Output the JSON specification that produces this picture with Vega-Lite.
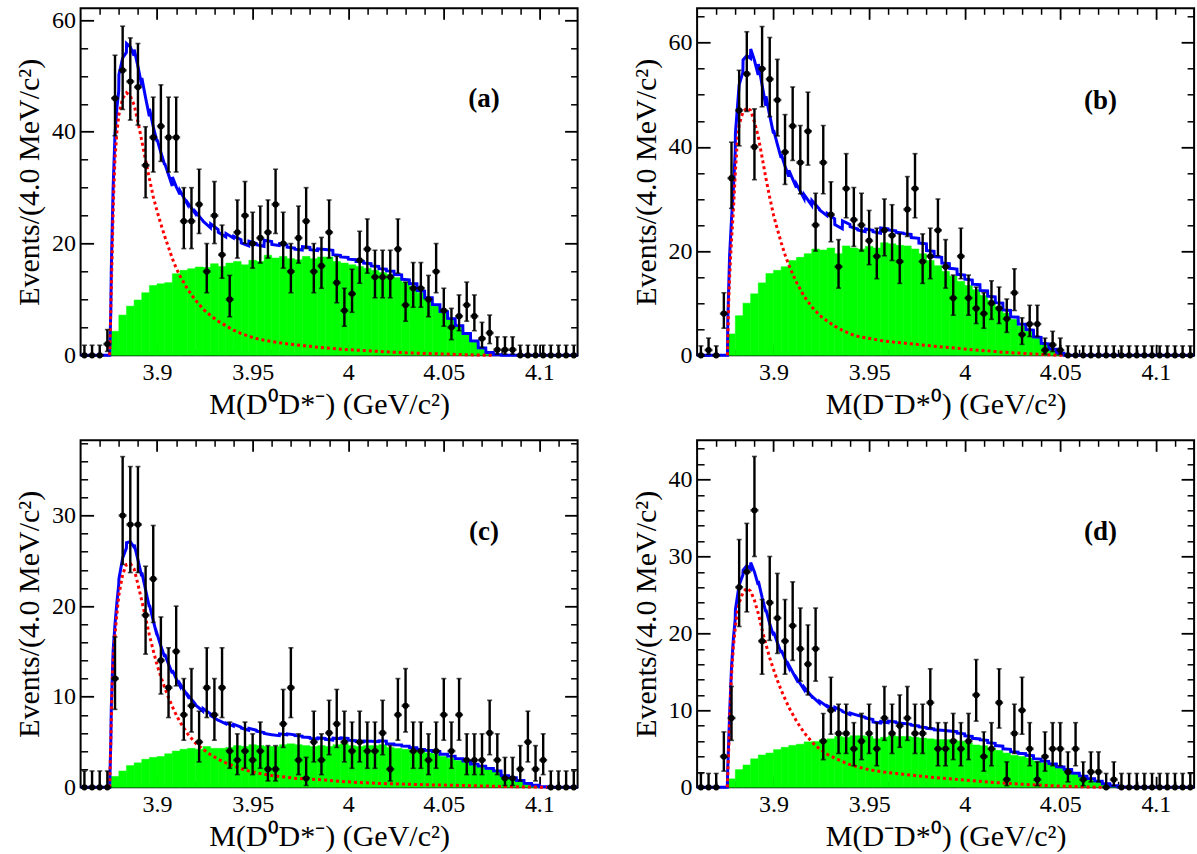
{
"$schema":"https://vega.github.io/schema/vega-lite/v6.json",
"background":"white",
"padding":{"left":13.6,"top":6.3,"right":0,"bottom":0},
"bounds":"flush",
"columns":2,
"spacing":{"row":85,"column":119.5},
"config":{"view":{"stroke":"black","strokeWidth":2},"font":"Liberation Serif","axis":{"labelFont":"Liberation Serif","titleFont":"Liberation Serif","labelColor":"#000","titleColor":"#000","titleFontWeight":"normal","tickColor":"#000","labelFlush":false,"labelOverlap":false,"grid":false,"domain":false},"text":{"font":"Liberation Serif"}},
"datasets":{
"lab":[{"p":"a","t":"(a)"},{"p":"b","t":"(b)"},{"p":"c","t":"(c)"},{"p":"d","t":"(d)"}],
"pts":[
{"p":"a","x":3.862,"n":0,"lo":0,"hi":1.8},{"p":"a","x":3.866,"n":0,"lo":0,"hi":1.8},{"p":"a","x":3.870,"n":0,"lo":0,"hi":1.8},{"p":"a","x":3.874,"n":2,"lo":0.7,"hi":4.6},{"p":"a","x":3.878,"n":46,"lo":39.3,"hi":53.7},{"p":"a","x":3.882,"n":51,"lo":44.0,"hi":58.9},{"p":"a","x":3.886,"n":49,"lo":42.1,"hi":56.8},{"p":"a","x":3.890,"n":48,"lo":41.2,"hi":55.8},{"p":"a","x":3.894,"n":34,"lo":28.2,"hi":40.9},{"p":"a","x":3.898,"n":39,"lo":32.8,"hi":46.2},{"p":"a","x":3.902,"n":41,"lo":34.7,"hi":48.4},{"p":"a","x":3.906,"n":39,"lo":32.8,"hi":46.2},{"p":"a","x":3.910,"n":39,"lo":32.8,"hi":46.2},{"p":"a","x":3.914,"n":24,"lo":19.1,"hi":30.0},{"p":"a","x":3.918,"n":24,"lo":19.1,"hi":30.0},{"p":"a","x":3.922,"n":27,"lo":21.8,"hi":33.3},{"p":"a","x":3.926,"n":15,"lo":11.2,"hi":20.0},{"p":"a","x":3.930,"n":25,"lo":20.0,"hi":31.1},{"p":"a","x":3.934,"n":18,"lo":13.8,"hi":23.3},{"p":"a","x":3.938,"n":10,"lo":6.9,"hi":14.3},{"p":"a","x":3.942,"n":22,"lo":17.4,"hi":27.8},{"p":"a","x":3.946,"n":25,"lo":20.0,"hi":31.1},{"p":"a","x":3.950,"n":20,"lo":15.6,"hi":25.6},{"p":"a","x":3.954,"n":21,"lo":16.5,"hi":26.7},{"p":"a","x":3.958,"n":22,"lo":17.4,"hi":27.8},{"p":"a","x":3.962,"n":27,"lo":21.8,"hi":33.3},{"p":"a","x":3.966,"n":20,"lo":15.6,"hi":25.6},{"p":"a","x":3.970,"n":15,"lo":11.2,"hi":20.0},{"p":"a","x":3.974,"n":21,"lo":16.5,"hi":26.7},{"p":"a","x":3.978,"n":24,"lo":19.1,"hi":30.0},{"p":"a","x":3.982,"n":15,"lo":11.2,"hi":20.0},{"p":"a","x":3.986,"n":16,"lo":12.0,"hi":21.1},{"p":"a","x":3.990,"n":22,"lo":17.4,"hi":27.8},{"p":"a","x":3.994,"n":13,"lo":9.4,"hi":17.7},{"p":"a","x":3.998,"n":8,"lo":5.2,"hi":12.0},{"p":"a","x":4.002,"n":11,"lo":7.7,"hi":15.4},{"p":"a","x":4.006,"n":17,"lo":12.9,"hi":22.2},{"p":"a","x":4.010,"n":19,"lo":14.7,"hi":24.4},{"p":"a","x":4.014,"n":14,"lo":10.3,"hi":18.8},{"p":"a","x":4.018,"n":14,"lo":10.3,"hi":18.8},{"p":"a","x":4.022,"n":14,"lo":10.3,"hi":18.8},{"p":"a","x":4.026,"n":19,"lo":14.7,"hi":24.4},{"p":"a","x":4.030,"n":9,"lo":6.1,"hi":13.1},{"p":"a","x":4.034,"n":12,"lo":8.6,"hi":16.6},{"p":"a","x":4.038,"n":12,"lo":8.6,"hi":16.6},{"p":"a","x":4.042,"n":10,"lo":6.9,"hi":14.3},{"p":"a","x":4.046,"n":15,"lo":11.2,"hi":20.0},{"p":"a","x":4.050,"n":8,"lo":5.2,"hi":12.0},{"p":"a","x":4.054,"n":5,"lo":2.8,"hi":8.4},{"p":"a","x":4.058,"n":7,"lo":4.4,"hi":10.8},{"p":"a","x":4.062,"n":9,"lo":6.1,"hi":13.1},{"p":"a","x":4.066,"n":7,"lo":4.4,"hi":10.8},{"p":"a","x":4.070,"n":3,"lo":1.4,"hi":5.9},{"p":"a","x":4.074,"n":4,"lo":2.1,"hi":7.2},{"p":"a","x":4.078,"n":1,"lo":0.2,"hi":3.3},{"p":"a","x":4.082,"n":1,"lo":0.2,"hi":3.3},{"p":"a","x":4.086,"n":1,"lo":0.2,"hi":3.3},{"p":"a","x":4.090,"n":0,"lo":0,"hi":1.8},{"p":"a","x":4.094,"n":0,"lo":0,"hi":1.8},{"p":"a","x":4.098,"n":0,"lo":0,"hi":1.8},{"p":"a","x":4.102,"n":0,"lo":0,"hi":1.8},{"p":"a","x":4.106,"n":0,"lo":0,"hi":1.8},{"p":"a","x":4.110,"n":0,"lo":0,"hi":1.8},{"p":"a","x":4.114,"n":0,"lo":0,"hi":1.8},{"p":"a","x":4.118,"n":0,"lo":0,"hi":1.8},
{"p":"b","x":3.862,"n":0,"lo":0,"hi":1.8},{"p":"b","x":3.866,"n":1,"lo":0.2,"hi":3.3},{"p":"b","x":3.870,"n":0,"lo":0,"hi":1.8},{"p":"b","x":3.874,"n":8,"lo":5.2,"hi":12.0},{"p":"b","x":3.878,"n":34,"lo":28.2,"hi":40.9},{"p":"b","x":3.882,"n":47,"lo":40.2,"hi":54.7},{"p":"b","x":3.886,"n":54,"lo":46.8,"hi":62.1},{"p":"b","x":3.890,"n":40,"lo":33.7,"hi":47.3},{"p":"b","x":3.894,"n":55,"lo":47.7,"hi":63.1},{"p":"b","x":3.898,"n":53,"lo":45.8,"hi":61.0},{"p":"b","x":3.902,"n":49,"lo":42.1,"hi":56.8},{"p":"b","x":3.906,"n":39,"lo":32.8,"hi":46.2},{"p":"b","x":3.910,"n":44,"lo":37.4,"hi":51.5},{"p":"b","x":3.914,"n":37,"lo":31.0,"hi":44.1},{"p":"b","x":3.918,"n":43,"lo":36.5,"hi":50.5},{"p":"b","x":3.922,"n":25,"lo":20.0,"hi":31.1},{"p":"b","x":3.926,"n":37,"lo":31.0,"hi":44.1},{"p":"b","x":3.930,"n":27,"lo":21.8,"hi":33.3},{"p":"b","x":3.934,"n":17,"lo":12.9,"hi":22.2},{"p":"b","x":3.938,"n":32,"lo":26.4,"hi":38.7},{"p":"b","x":3.942,"n":26,"lo":20.9,"hi":32.2},{"p":"b","x":3.946,"n":25,"lo":20.0,"hi":31.1},{"p":"b","x":3.950,"n":22,"lo":17.4,"hi":27.8},{"p":"b","x":3.954,"n":19,"lo":14.7,"hi":24.4},{"p":"b","x":3.958,"n":24,"lo":19.1,"hi":30.0},{"p":"b","x":3.962,"n":23,"lo":18.2,"hi":28.9},{"p":"b","x":3.966,"n":18,"lo":13.8,"hi":23.3},{"p":"b","x":3.970,"n":28,"lo":22.8,"hi":34.3},{"p":"b","x":3.974,"n":32,"lo":26.4,"hi":38.7},{"p":"b","x":3.978,"n":18,"lo":13.8,"hi":23.3},{"p":"b","x":3.982,"n":19,"lo":14.7,"hi":24.4},{"p":"b","x":3.986,"n":24,"lo":19.1,"hi":30.0},{"p":"b","x":3.990,"n":17,"lo":12.9,"hi":22.2},{"p":"b","x":3.994,"n":11,"lo":7.7,"hi":15.4},{"p":"b","x":3.998,"n":19,"lo":14.7,"hi":24.4},{"p":"b","x":4.002,"n":11,"lo":7.7,"hi":15.4},{"p":"b","x":4.006,"n":9,"lo":6.1,"hi":13.1},{"p":"b","x":4.010,"n":8,"lo":5.2,"hi":12.0},{"p":"b","x":4.014,"n":10,"lo":6.9,"hi":14.3},{"p":"b","x":4.018,"n":9,"lo":6.1,"hi":13.1},{"p":"b","x":4.022,"n":7,"lo":4.4,"hi":10.8},{"p":"b","x":4.026,"n":12,"lo":8.6,"hi":16.6},{"p":"b","x":4.030,"n":4,"lo":2.1,"hi":7.2},{"p":"b","x":4.034,"n":6,"lo":3.6,"hi":9.6},{"p":"b","x":4.038,"n":6,"lo":3.6,"hi":9.6},{"p":"b","x":4.042,"n":1,"lo":0.2,"hi":3.3},{"p":"b","x":4.046,"n":2,"lo":0.7,"hi":4.6},{"p":"b","x":4.050,"n":1,"lo":0.2,"hi":3.3},{"p":"b","x":4.054,"n":0,"lo":0,"hi":1.8},{"p":"b","x":4.058,"n":0,"lo":0,"hi":1.8},{"p":"b","x":4.062,"n":0,"lo":0,"hi":1.8},{"p":"b","x":4.066,"n":0,"lo":0,"hi":1.8},{"p":"b","x":4.070,"n":0,"lo":0,"hi":1.8},{"p":"b","x":4.074,"n":0,"lo":0,"hi":1.8},{"p":"b","x":4.078,"n":0,"lo":0,"hi":1.8},{"p":"b","x":4.082,"n":0,"lo":0,"hi":1.8},{"p":"b","x":4.086,"n":0,"lo":0,"hi":1.8},{"p":"b","x":4.090,"n":0,"lo":0,"hi":1.8},{"p":"b","x":4.094,"n":0,"lo":0,"hi":1.8},{"p":"b","x":4.098,"n":0,"lo":0,"hi":1.8},{"p":"b","x":4.102,"n":0,"lo":0,"hi":1.8},{"p":"b","x":4.106,"n":0,"lo":0,"hi":1.8},{"p":"b","x":4.110,"n":0,"lo":0,"hi":1.8},{"p":"b","x":4.114,"n":0,"lo":0,"hi":1.8},{"p":"b","x":4.118,"n":0,"lo":0,"hi":1.8},
{"p":"c","x":3.862,"n":0,"lo":0,"hi":1.8},{"p":"c","x":3.866,"n":0,"lo":0,"hi":1.8},{"p":"c","x":3.870,"n":0,"lo":0,"hi":1.8},{"p":"c","x":3.874,"n":0,"lo":0,"hi":1.8},{"p":"c","x":3.878,"n":12,"lo":8.6,"hi":16.6},{"p":"c","x":3.882,"n":30,"lo":24.6,"hi":36.5},{"p":"c","x":3.886,"n":29,"lo":23.7,"hi":35.4},{"p":"c","x":3.890,"n":29,"lo":23.7,"hi":35.4},{"p":"c","x":3.894,"n":19,"lo":14.7,"hi":24.4},{"p":"c","x":3.898,"n":23,"lo":18.2,"hi":28.9},{"p":"c","x":3.902,"n":14,"lo":10.3,"hi":18.8},{"p":"c","x":3.906,"n":11,"lo":7.7,"hi":15.4},{"p":"c","x":3.910,"n":15,"lo":11.2,"hi":20.0},{"p":"c","x":3.914,"n":8,"lo":5.2,"hi":12.0},{"p":"c","x":3.918,"n":9,"lo":6.1,"hi":13.1},{"p":"c","x":3.922,"n":5,"lo":2.8,"hi":8.4},{"p":"c","x":3.926,"n":11,"lo":7.7,"hi":15.4},{"p":"c","x":3.930,"n":8,"lo":5.2,"hi":12.0},{"p":"c","x":3.934,"n":11,"lo":7.7,"hi":15.4},{"p":"c","x":3.938,"n":4,"lo":2.1,"hi":7.2},{"p":"c","x":3.942,"n":3,"lo":1.4,"hi":5.9},{"p":"c","x":3.946,"n":4,"lo":2.1,"hi":7.2},{"p":"c","x":3.950,"n":3,"lo":1.4,"hi":5.9},{"p":"c","x":3.954,"n":4,"lo":2.1,"hi":7.2},{"p":"c","x":3.958,"n":2,"lo":0.7,"hi":4.6},{"p":"c","x":3.962,"n":2,"lo":0.7,"hi":4.6},{"p":"c","x":3.966,"n":7,"lo":4.4,"hi":10.8},{"p":"c","x":3.970,"n":11,"lo":7.7,"hi":15.4},{"p":"c","x":3.974,"n":3,"lo":1.4,"hi":5.9},{"p":"c","x":3.978,"n":1,"lo":0.2,"hi":3.3},{"p":"c","x":3.982,"n":5,"lo":2.8,"hi":8.4},{"p":"c","x":3.986,"n":3,"lo":1.4,"hi":5.9},{"p":"c","x":3.990,"n":6,"lo":3.6,"hi":9.6},{"p":"c","x":3.994,"n":7,"lo":4.4,"hi":10.8},{"p":"c","x":3.998,"n":5,"lo":2.8,"hi":8.4},{"p":"c","x":4.002,"n":4,"lo":2.1,"hi":7.2},{"p":"c","x":4.006,"n":5,"lo":2.8,"hi":8.4},{"p":"c","x":4.010,"n":4,"lo":2.1,"hi":7.2},{"p":"c","x":4.014,"n":4,"lo":2.1,"hi":7.2},{"p":"c","x":4.018,"n":6,"lo":3.6,"hi":9.6},{"p":"c","x":4.022,"n":2,"lo":0.7,"hi":4.6},{"p":"c","x":4.026,"n":8,"lo":5.2,"hi":12.0},{"p":"c","x":4.030,"n":9,"lo":6.1,"hi":13.1},{"p":"c","x":4.034,"n":4,"lo":2.1,"hi":7.2},{"p":"c","x":4.038,"n":4,"lo":2.1,"hi":7.2},{"p":"c","x":4.042,"n":3,"lo":1.4,"hi":5.9},{"p":"c","x":4.046,"n":4,"lo":2.1,"hi":7.2},{"p":"c","x":4.050,"n":8,"lo":5.2,"hi":12.0},{"p":"c","x":4.054,"n":4,"lo":2.1,"hi":7.2},{"p":"c","x":4.058,"n":8,"lo":5.2,"hi":12.0},{"p":"c","x":4.062,"n":3,"lo":1.4,"hi":5.9},{"p":"c","x":4.066,"n":3,"lo":1.4,"hi":5.9},{"p":"c","x":4.070,"n":3,"lo":1.4,"hi":5.9},{"p":"c","x":4.074,"n":6,"lo":3.6,"hi":9.6},{"p":"c","x":4.078,"n":3,"lo":1.4,"hi":5.9},{"p":"c","x":4.082,"n":1,"lo":0.2,"hi":3.3},{"p":"c","x":4.086,"n":1,"lo":0.2,"hi":3.3},{"p":"c","x":4.090,"n":2,"lo":0.7,"hi":4.6},{"p":"c","x":4.094,"n":5,"lo":2.8,"hi":8.4},{"p":"c","x":4.098,"n":2,"lo":0.7,"hi":4.6},{"p":"c","x":4.102,"n":3,"lo":1.4,"hi":5.9},{"p":"c","x":4.106,"n":0,"lo":0,"hi":1.8},{"p":"c","x":4.110,"n":0,"lo":0,"hi":1.8},{"p":"c","x":4.114,"n":0,"lo":0,"hi":1.8},{"p":"c","x":4.118,"n":0,"lo":0,"hi":1.8},
{"p":"d","x":3.862,"n":0,"lo":0,"hi":1.8},{"p":"d","x":3.866,"n":0,"lo":0,"hi":1.8},{"p":"d","x":3.870,"n":0,"lo":0,"hi":1.8},{"p":"d","x":3.874,"n":4,"lo":2.1,"hi":7.2},{"p":"d","x":3.878,"n":9,"lo":6.1,"hi":13.1},{"p":"d","x":3.882,"n":26,"lo":20.9,"hi":32.2},{"p":"d","x":3.886,"n":28,"lo":22.8,"hi":34.3},{"p":"d","x":3.890,"n":36,"lo":30.0,"hi":43.0},{"p":"d","x":3.894,"n":19,"lo":14.7,"hi":24.4},{"p":"d","x":3.898,"n":24,"lo":19.1,"hi":30.0},{"p":"d","x":3.902,"n":22,"lo":17.4,"hi":27.8},{"p":"d","x":3.906,"n":19,"lo":14.7,"hi":24.4},{"p":"d","x":3.910,"n":21,"lo":16.5,"hi":26.7},{"p":"d","x":3.914,"n":18,"lo":13.8,"hi":23.3},{"p":"d","x":3.918,"n":16,"lo":12.0,"hi":21.1},{"p":"d","x":3.922,"n":18,"lo":13.8,"hi":23.3},{"p":"d","x":3.926,"n":6,"lo":3.6,"hi":9.6},{"p":"d","x":3.930,"n":10,"lo":6.9,"hi":14.3},{"p":"d","x":3.934,"n":7,"lo":4.4,"hi":10.8},{"p":"d","x":3.938,"n":7,"lo":4.4,"hi":10.8},{"p":"d","x":3.942,"n":5,"lo":2.8,"hi":8.4},{"p":"d","x":3.946,"n":6,"lo":3.6,"hi":9.6},{"p":"d","x":3.950,"n":7,"lo":4.4,"hi":10.8},{"p":"d","x":3.954,"n":5,"lo":2.8,"hi":8.4},{"p":"d","x":3.958,"n":9,"lo":6.1,"hi":13.1},{"p":"d","x":3.962,"n":7,"lo":4.4,"hi":10.8},{"p":"d","x":3.966,"n":8,"lo":5.2,"hi":12.0},{"p":"d","x":3.970,"n":9,"lo":6.1,"hi":13.1},{"p":"d","x":3.974,"n":7,"lo":4.4,"hi":10.8},{"p":"d","x":3.978,"n":7,"lo":4.4,"hi":10.8},{"p":"d","x":3.982,"n":11,"lo":7.7,"hi":15.4},{"p":"d","x":3.986,"n":5,"lo":2.8,"hi":8.4},{"p":"d","x":3.990,"n":5,"lo":2.8,"hi":8.4},{"p":"d","x":3.994,"n":6,"lo":3.6,"hi":9.6},{"p":"d","x":3.998,"n":5,"lo":2.8,"hi":8.4},{"p":"d","x":4.002,"n":6,"lo":3.6,"hi":9.6},{"p":"d","x":4.006,"n":12,"lo":8.6,"hi":16.6},{"p":"d","x":4.010,"n":4,"lo":2.1,"hi":7.2},{"p":"d","x":4.014,"n":5,"lo":2.8,"hi":8.4},{"p":"d","x":4.018,"n":11,"lo":7.7,"hi":15.4},{"p":"d","x":4.022,"n":1,"lo":0.2,"hi":3.3},{"p":"d","x":4.026,"n":7,"lo":4.4,"hi":10.8},{"p":"d","x":4.030,"n":10,"lo":6.9,"hi":14.3},{"p":"d","x":4.034,"n":5,"lo":2.8,"hi":8.4},{"p":"d","x":4.038,"n":1,"lo":0.2,"hi":3.3},{"p":"d","x":4.042,"n":4,"lo":2.1,"hi":7.2},{"p":"d","x":4.046,"n":5,"lo":2.8,"hi":8.4},{"p":"d","x":4.050,"n":5,"lo":2.8,"hi":8.4},{"p":"d","x":4.054,"n":2,"lo":0.7,"hi":4.6},{"p":"d","x":4.058,"n":5,"lo":2.8,"hi":8.4},{"p":"d","x":4.062,"n":1,"lo":0.2,"hi":3.3},{"p":"d","x":4.066,"n":2,"lo":0.7,"hi":4.6},{"p":"d","x":4.070,"n":2,"lo":0.7,"hi":4.6},{"p":"d","x":4.074,"n":0,"lo":0,"hi":1.8},{"p":"d","x":4.078,"n":1,"lo":0.2,"hi":3.3},{"p":"d","x":4.082,"n":0,"lo":0,"hi":1.8},{"p":"d","x":4.086,"n":0,"lo":0,"hi":1.8},{"p":"d","x":4.090,"n":0,"lo":0,"hi":1.8},{"p":"d","x":4.094,"n":0,"lo":0,"hi":1.8},{"p":"d","x":4.098,"n":0,"lo":0,"hi":1.8},{"p":"d","x":4.102,"n":0,"lo":0,"hi":1.8},{"p":"d","x":4.106,"n":0,"lo":0,"hi":1.8},{"p":"d","x":4.110,"n":0,"lo":0,"hi":1.8},{"p":"d","x":4.114,"n":0,"lo":0,"hi":1.8},{"p":"d","x":4.118,"n":0,"lo":0,"hi":1.8}
],
"grn":[
{"p":"a","x0":3.876,"x1":3.880,"g":4.3},{"p":"a","x0":3.880,"x1":3.884,"g":7.2},{"p":"a","x0":3.884,"x1":3.888,"g":8.8},{"p":"a","x0":3.888,"x1":3.892,"g":9.9},{"p":"a","x0":3.892,"x1":3.896,"g":11.2},{"p":"a","x0":3.896,"x1":3.900,"g":12.5},{"p":"a","x0":3.900,"x1":3.904,"g":12.8},{"p":"a","x0":3.904,"x1":3.908,"g":13.0},{"p":"a","x0":3.908,"x1":3.912,"g":14.6},{"p":"a","x0":3.912,"x1":3.916,"g":15.2},{"p":"a","x0":3.916,"x1":3.920,"g":15.5},{"p":"a","x0":3.920,"x1":3.924,"g":15.8},{"p":"a","x0":3.924,"x1":3.928,"g":15.7},{"p":"a","x0":3.928,"x1":3.932,"g":16.4},{"p":"a","x0":3.932,"x1":3.936,"g":15.9},{"p":"a","x0":3.936,"x1":3.940,"g":16.5},{"p":"a","x0":3.940,"x1":3.944,"g":16.8},{"p":"a","x0":3.944,"x1":3.948,"g":16.2},{"p":"a","x0":3.948,"x1":3.952,"g":17.0},{"p":"a","x0":3.952,"x1":3.956,"g":16.8},{"p":"a","x0":3.956,"x1":3.960,"g":17.9},{"p":"a","x0":3.960,"x1":3.964,"g":17.4},{"p":"a","x0":3.964,"x1":3.968,"g":17.7},{"p":"a","x0":3.968,"x1":3.972,"g":17.3},{"p":"a","x0":3.972,"x1":3.976,"g":17.1},{"p":"a","x0":3.976,"x1":3.980,"g":17.7},{"p":"a","x0":3.980,"x1":3.984,"g":17.3},{"p":"a","x0":3.984,"x1":3.988,"g":17.6},{"p":"a","x0":3.988,"x1":3.992,"g":17.6},{"p":"a","x0":3.992,"x1":3.996,"g":16.8},{"p":"a","x0":3.996,"x1":4.000,"g":16.5},{"p":"a","x0":4.000,"x1":4.004,"g":16.2},{"p":"a","x0":4.004,"x1":4.008,"g":15.9},{"p":"a","x0":4.008,"x1":4.012,"g":15.6},{"p":"a","x0":4.012,"x1":4.016,"g":15.2},{"p":"a","x0":4.016,"x1":4.020,"g":14.8},{"p":"a","x0":4.020,"x1":4.024,"g":14.5},{"p":"a","x0":4.024,"x1":4.028,"g":13.9},{"p":"a","x0":4.028,"x1":4.032,"g":13.1},{"p":"a","x0":4.032,"x1":4.036,"g":12.4},{"p":"a","x0":4.036,"x1":4.040,"g":11.2},{"p":"a","x0":4.040,"x1":4.044,"g":10.0},{"p":"a","x0":4.044,"x1":4.048,"g":8.8},{"p":"a","x0":4.048,"x1":4.052,"g":7.6},{"p":"a","x0":4.052,"x1":4.056,"g":6.4},{"p":"a","x0":4.056,"x1":4.060,"g":5.2},{"p":"a","x0":4.060,"x1":4.064,"g":3.8},{"p":"a","x0":4.064,"x1":4.068,"g":2.5},{"p":"a","x0":4.068,"x1":4.072,"g":1.3},{"p":"a","x0":4.072,"x1":4.076,"g":0.5},{"p":"a","x0":4.076,"x1":4.080,"g":0.1},
{"p":"b","x0":3.876,"x1":3.880,"g":4.1},{"p":"b","x0":3.880,"x1":3.884,"g":7.6},{"p":"b","x0":3.884,"x1":3.888,"g":10.0},{"p":"b","x0":3.888,"x1":3.892,"g":11.8},{"p":"b","x0":3.892,"x1":3.896,"g":13.9},{"p":"b","x0":3.896,"x1":3.900,"g":15.7},{"p":"b","x0":3.900,"x1":3.904,"g":16.3},{"p":"b","x0":3.904,"x1":3.908,"g":17.0},{"p":"b","x0":3.908,"x1":3.912,"g":18.2},{"p":"b","x0":3.912,"x1":3.916,"g":18.8},{"p":"b","x0":3.916,"x1":3.920,"g":19.5},{"p":"b","x0":3.920,"x1":3.924,"g":20.4},{"p":"b","x0":3.924,"x1":3.928,"g":20.2},{"p":"b","x0":3.928,"x1":3.932,"g":20.6},{"p":"b","x0":3.932,"x1":3.936,"g":19.5},{"p":"b","x0":3.936,"x1":3.940,"g":21.0},{"p":"b","x0":3.940,"x1":3.944,"g":20.6},{"p":"b","x0":3.944,"x1":3.948,"g":20.4},{"p":"b","x0":3.948,"x1":3.952,"g":20.9},{"p":"b","x0":3.952,"x1":3.956,"g":20.6},{"p":"b","x0":3.956,"x1":3.960,"g":21.6},{"p":"b","x0":3.960,"x1":3.964,"g":21.4},{"p":"b","x0":3.964,"x1":3.968,"g":21.1},{"p":"b","x0":3.968,"x1":3.972,"g":21.0},{"p":"b","x0":3.972,"x1":3.976,"g":20.4},{"p":"b","x0":3.976,"x1":3.980,"g":19.5},{"p":"b","x0":3.980,"x1":3.984,"g":18.2},{"p":"b","x0":3.984,"x1":3.988,"g":17.2},{"p":"b","x0":3.988,"x1":3.992,"g":16.1},{"p":"b","x0":3.992,"x1":3.996,"g":15.2},{"p":"b","x0":3.996,"x1":4.000,"g":14.2},{"p":"b","x0":4.000,"x1":4.004,"g":13.4},{"p":"b","x0":4.004,"x1":4.008,"g":12.6},{"p":"b","x0":4.008,"x1":4.012,"g":11.5},{"p":"b","x0":4.012,"x1":4.016,"g":10.5},{"p":"b","x0":4.016,"x1":4.020,"g":9.4},{"p":"b","x0":4.020,"x1":4.024,"g":8.1},{"p":"b","x0":4.024,"x1":4.028,"g":6.9},{"p":"b","x0":4.028,"x1":4.032,"g":5.6},{"p":"b","x0":4.032,"x1":4.036,"g":4.6},{"p":"b","x0":4.036,"x1":4.040,"g":3.3},{"p":"b","x0":4.040,"x1":4.044,"g":2.1},{"p":"b","x0":4.044,"x1":4.048,"g":1.1},{"p":"b","x0":4.048,"x1":4.052,"g":0.4},
{"p":"c","x0":3.876,"x1":3.880,"g":1.2},{"p":"c","x0":3.880,"x1":3.884,"g":1.8},{"p":"c","x0":3.884,"x1":3.888,"g":2.4},{"p":"c","x0":3.888,"x1":3.892,"g":2.7},{"p":"c","x0":3.892,"x1":3.896,"g":3.1},{"p":"c","x0":3.896,"x1":3.900,"g":3.3},{"p":"c","x0":3.900,"x1":3.904,"g":3.4},{"p":"c","x0":3.904,"x1":3.908,"g":3.7},{"p":"c","x0":3.908,"x1":3.912,"g":4.0},{"p":"c","x0":3.912,"x1":3.916,"g":4.2},{"p":"c","x0":3.916,"x1":3.920,"g":4.3},{"p":"c","x0":3.920,"x1":3.924,"g":4.2},{"p":"c","x0":3.924,"x1":3.928,"g":4.5},{"p":"c","x0":3.928,"x1":3.932,"g":4.3},{"p":"c","x0":3.932,"x1":3.936,"g":4.3},{"p":"c","x0":3.936,"x1":3.940,"g":4.4},{"p":"c","x0":3.940,"x1":3.944,"g":4.6},{"p":"c","x0":3.944,"x1":3.948,"g":4.5},{"p":"c","x0":3.948,"x1":3.952,"g":4.7},{"p":"c","x0":3.952,"x1":3.956,"g":4.6},{"p":"c","x0":3.956,"x1":3.960,"g":4.5},{"p":"c","x0":3.960,"x1":3.964,"g":4.5},{"p":"c","x0":3.964,"x1":3.968,"g":4.7},{"p":"c","x0":3.968,"x1":3.972,"g":4.8},{"p":"c","x0":3.972,"x1":3.976,"g":4.7},{"p":"c","x0":3.976,"x1":3.980,"g":4.6},{"p":"c","x0":3.980,"x1":3.984,"g":4.5},{"p":"c","x0":3.984,"x1":3.988,"g":4.6},{"p":"c","x0":3.988,"x1":3.992,"g":4.5},{"p":"c","x0":3.992,"x1":3.996,"g":4.7},{"p":"c","x0":3.996,"x1":4.000,"g":4.8},{"p":"c","x0":4.000,"x1":4.004,"g":4.6},{"p":"c","x0":4.004,"x1":4.008,"g":4.5},{"p":"c","x0":4.008,"x1":4.012,"g":4.6},{"p":"c","x0":4.012,"x1":4.016,"g":4.6},{"p":"c","x0":4.016,"x1":4.020,"g":4.7},{"p":"c","x0":4.020,"x1":4.024,"g":4.4},{"p":"c","x0":4.024,"x1":4.028,"g":4.3},{"p":"c","x0":4.028,"x1":4.032,"g":4.2},{"p":"c","x0":4.032,"x1":4.036,"g":4.05},{"p":"c","x0":4.036,"x1":4.040,"g":3.9},{"p":"c","x0":4.040,"x1":4.044,"g":3.8},{"p":"c","x0":4.044,"x1":4.048,"g":3.7},{"p":"c","x0":4.048,"x1":4.052,"g":3.4},{"p":"c","x0":4.052,"x1":4.056,"g":3.2},{"p":"c","x0":4.056,"x1":4.060,"g":2.95},{"p":"c","x0":4.060,"x1":4.064,"g":2.7},{"p":"c","x0":4.064,"x1":4.068,"g":2.4},{"p":"c","x0":4.068,"x1":4.072,"g":2.2},{"p":"c","x0":4.072,"x1":4.076,"g":1.95},{"p":"c","x0":4.076,"x1":4.080,"g":1.7},{"p":"c","x0":4.080,"x1":4.084,"g":1.2},{"p":"c","x0":4.084,"x1":4.088,"g":1.0},{"p":"c","x0":4.088,"x1":4.092,"g":0.7},{"p":"c","x0":4.092,"x1":4.096,"g":0.4},{"p":"c","x0":4.096,"x1":4.100,"g":0.2},{"p":"c","x0":4.100,"x1":4.104,"g":0.05},
{"p":"d","x0":3.876,"x1":3.880,"g":1.1},{"p":"d","x0":3.880,"x1":3.884,"g":2.3},{"p":"d","x0":3.884,"x1":3.888,"g":2.9},{"p":"d","x0":3.888,"x1":3.892,"g":3.7},{"p":"d","x0":3.892,"x1":3.896,"g":4.2},{"p":"d","x0":3.896,"x1":3.900,"g":4.45},{"p":"d","x0":3.900,"x1":3.904,"g":4.9},{"p":"d","x0":3.904,"x1":3.908,"g":5.2},{"p":"d","x0":3.908,"x1":3.912,"g":5.45},{"p":"d","x0":3.912,"x1":3.916,"g":5.6},{"p":"d","x0":3.916,"x1":3.920,"g":5.9},{"p":"d","x0":3.920,"x1":3.924,"g":5.95},{"p":"d","x0":3.924,"x1":3.928,"g":6.2},{"p":"d","x0":3.928,"x1":3.932,"g":6.3},{"p":"d","x0":3.932,"x1":3.936,"g":6.6},{"p":"d","x0":3.936,"x1":3.940,"g":6.5},{"p":"d","x0":3.940,"x1":3.944,"g":6.7},{"p":"d","x0":3.944,"x1":3.948,"g":6.7},{"p":"d","x0":3.948,"x1":3.952,"g":6.6},{"p":"d","x0":3.952,"x1":3.956,"g":6.3},{"p":"d","x0":3.956,"x1":3.960,"g":6.5},{"p":"d","x0":3.960,"x1":3.964,"g":6.7},{"p":"d","x0":3.964,"x1":3.968,"g":6.6},{"p":"d","x0":3.968,"x1":3.972,"g":6.6},{"p":"d","x0":3.972,"x1":3.976,"g":6.5},{"p":"d","x0":3.976,"x1":3.980,"g":6.4},{"p":"d","x0":3.980,"x1":3.984,"g":6.3},{"p":"d","x0":3.984,"x1":3.988,"g":6.2},{"p":"d","x0":3.988,"x1":3.992,"g":6.2},{"p":"d","x0":3.992,"x1":3.996,"g":6.2},{"p":"d","x0":3.996,"x1":4.000,"g":6.0},{"p":"d","x0":4.000,"x1":4.004,"g":5.75},{"p":"d","x0":4.004,"x1":4.008,"g":5.5},{"p":"d","x0":4.008,"x1":4.012,"g":5.4},{"p":"d","x0":4.012,"x1":4.016,"g":5.1},{"p":"d","x0":4.016,"x1":4.020,"g":4.8},{"p":"d","x0":4.020,"x1":4.024,"g":4.45},{"p":"d","x0":4.024,"x1":4.028,"g":4.15},{"p":"d","x0":4.028,"x1":4.032,"g":4.0},{"p":"d","x0":4.032,"x1":4.036,"g":3.8},{"p":"d","x0":4.036,"x1":4.040,"g":3.4},{"p":"d","x0":4.040,"x1":4.044,"g":3.15},{"p":"d","x0":4.044,"x1":4.048,"g":2.85},{"p":"d","x0":4.048,"x1":4.052,"g":2.5},{"p":"d","x0":4.052,"x1":4.056,"g":2.2},{"p":"d","x0":4.056,"x1":4.060,"g":1.75},{"p":"d","x0":4.060,"x1":4.064,"g":1.4},{"p":"d","x0":4.064,"x1":4.068,"g":1.1},{"p":"d","x0":4.068,"x1":4.072,"g":0.8},{"p":"d","x0":4.072,"x1":4.076,"g":0.45},{"p":"d","x0":4.076,"x1":4.080,"g":0.2},{"p":"d","x0":4.080,"x1":4.084,"g":0.05}
],
"red":[
{"p":"a","x":3.8752,"y":0},{"p":"a","x":3.8758,"y":8},{"p":"a","x":3.8765,"y":18},{"p":"a","x":3.877,"y":25.5},{"p":"a","x":3.8774,"y":30},{"p":"a","x":3.878,"y":35.2},{"p":"a","x":3.879,"y":40},{"p":"a","x":3.880,"y":43},{"p":"a","x":3.882,"y":46},{"p":"a","x":3.884,"y":47},{"p":"a","x":3.886,"y":46.4},{"p":"a","x":3.888,"y":44.8},{"p":"a","x":3.890,"y":41.8},{"p":"a","x":3.892,"y":38.4},{"p":"a","x":3.894,"y":34.9},{"p":"a","x":3.896,"y":31.6},{"p":"a","x":3.898,"y":28.4},{"p":"a","x":3.900,"y":25.8},{"p":"a","x":3.902,"y":23.5},{"p":"a","x":3.904,"y":21.3},{"p":"a","x":3.906,"y":19.3},{"p":"a","x":3.908,"y":17.3},{"p":"a","x":3.910,"y":15.6},{"p":"a","x":3.912,"y":14.2},{"p":"a","x":3.916,"y":11.8},{"p":"a","x":3.920,"y":9.9},{"p":"a","x":3.924,"y":8.3},{"p":"a","x":3.928,"y":7.1},{"p":"a","x":3.932,"y":6.1},{"p":"a","x":3.936,"y":5.3},{"p":"a","x":3.940,"y":4.5},{"p":"a","x":3.944,"y":3.9},{"p":"a","x":3.948,"y":3.4},{"p":"a","x":3.952,"y":3.0},{"p":"a","x":3.956,"y":2.7},{"p":"a","x":3.960,"y":2.45},{"p":"a","x":3.964,"y":2.25},{"p":"a","x":3.968,"y":2.05},{"p":"a","x":3.972,"y":1.9},{"p":"a","x":3.976,"y":1.75},{"p":"a","x":3.980,"y":1.6},{"p":"a","x":3.984,"y":1.45},{"p":"a","x":3.988,"y":1.35},{"p":"a","x":3.992,"y":1.22},{"p":"a","x":3.996,"y":1.1},{"p":"a","x":4.000,"y":1.0},{"p":"a","x":4.008,"y":0.86},{"p":"a","x":4.016,"y":0.7},{"p":"a","x":4.024,"y":0.55},{"p":"a","x":4.032,"y":0.42},{"p":"a","x":4.040,"y":0.33},{"p":"a","x":4.048,"y":0.25},{"p":"a","x":4.056,"y":0.16},{"p":"a","x":4.064,"y":0.08},{"p":"a","x":4.072,"y":0.02},{"p":"a","x":4.076,"y":0},
{"p":"b","x":3.8759,"y":0},{"p":"b","x":3.8765,"y":10},{"p":"b","x":3.877,"y":15},{"p":"b","x":3.8776,"y":19.3},{"p":"b","x":3.878,"y":22},{"p":"b","x":3.879,"y":28},{"p":"b","x":3.880,"y":35},{"p":"b","x":3.881,"y":41},{"p":"b","x":3.882,"y":44.3},{"p":"b","x":3.884,"y":46.7},{"p":"b","x":3.886,"y":47.5},{"p":"b","x":3.888,"y":47.0},{"p":"b","x":3.890,"y":44.8},{"p":"b","x":3.892,"y":42},{"p":"b","x":3.894,"y":38},{"p":"b","x":3.896,"y":34},{"p":"b","x":3.898,"y":30.3},{"p":"b","x":3.900,"y":26.9},{"p":"b","x":3.902,"y":24.2},{"p":"b","x":3.904,"y":21.6},{"p":"b","x":3.906,"y":19.3},{"p":"b","x":3.908,"y":17.3},{"p":"b","x":3.910,"y":15.6},{"p":"b","x":3.912,"y":14.0},{"p":"b","x":3.916,"y":11.3},{"p":"b","x":3.920,"y":9.3},{"p":"b","x":3.924,"y":7.7},{"p":"b","x":3.928,"y":6.6},{"p":"b","x":3.932,"y":5.6},{"p":"b","x":3.936,"y":4.8},{"p":"b","x":3.940,"y":4.1},{"p":"b","x":3.944,"y":3.65},{"p":"b","x":3.948,"y":3.35},{"p":"b","x":3.952,"y":3.1},{"p":"b","x":3.956,"y":2.85},{"p":"b","x":3.960,"y":2.65},{"p":"b","x":3.964,"y":2.5},{"p":"b","x":3.968,"y":2.35},{"p":"b","x":3.972,"y":2.2},{"p":"b","x":3.976,"y":2.05},{"p":"b","x":3.980,"y":1.9},{"p":"b","x":3.984,"y":1.75},{"p":"b","x":3.988,"y":1.6},{"p":"b","x":3.992,"y":1.5},{"p":"b","x":3.996,"y":1.35},{"p":"b","x":4.000,"y":1.2},{"p":"b","x":4.004,"y":1.05},{"p":"b","x":4.008,"y":0.95},{"p":"b","x":4.012,"y":0.85},{"p":"b","x":4.016,"y":0.72},{"p":"b","x":4.020,"y":0.6},{"p":"b","x":4.024,"y":0.5},{"p":"b","x":4.028,"y":0.42},{"p":"b","x":4.032,"y":0.33},{"p":"b","x":4.036,"y":0.25},{"p":"b","x":4.040,"y":0.17},{"p":"b","x":4.044,"y":0.1},{"p":"b","x":4.048,"y":0.04},{"p":"b","x":4.052,"y":0},
{"p":"c","x":3.8752,"y":0},{"p":"c","x":3.8758,"y":5},{"p":"c","x":3.8765,"y":11.3},{"p":"c","x":3.877,"y":13.8},{"p":"c","x":3.8774,"y":15},{"p":"c","x":3.878,"y":16.8},{"p":"c","x":3.879,"y":19.2},{"p":"c","x":3.880,"y":21.2},{"p":"c","x":3.882,"y":23.5},{"p":"c","x":3.884,"y":24.6},{"p":"c","x":3.886,"y":24.7},{"p":"c","x":3.888,"y":24.1},{"p":"c","x":3.890,"y":22.4},{"p":"c","x":3.892,"y":20.6},{"p":"c","x":3.894,"y":18.7},{"p":"c","x":3.896,"y":16.8},{"p":"c","x":3.898,"y":15.1},{"p":"c","x":3.900,"y":13.5},{"p":"c","x":3.902,"y":12.2},{"p":"c","x":3.904,"y":11.0},{"p":"c","x":3.906,"y":9.9},{"p":"c","x":3.908,"y":8.9},{"p":"c","x":3.910,"y":8.0},{"p":"c","x":3.912,"y":7.2},{"p":"c","x":3.916,"y":5.9},{"p":"c","x":3.920,"y":4.9},{"p":"c","x":3.924,"y":4.2},{"p":"c","x":3.928,"y":3.6},{"p":"c","x":3.932,"y":3.1},{"p":"c","x":3.936,"y":2.7},{"p":"c","x":3.940,"y":2.35},{"p":"c","x":3.944,"y":2.05},{"p":"c","x":3.948,"y":1.8},{"p":"c","x":3.952,"y":1.6},{"p":"c","x":3.956,"y":1.45},{"p":"c","x":3.960,"y":1.3},{"p":"c","x":3.964,"y":1.2},{"p":"c","x":3.968,"y":1.1},{"p":"c","x":3.972,"y":1.0},{"p":"c","x":3.976,"y":0.95},{"p":"c","x":3.980,"y":0.9},{"p":"c","x":3.984,"y":0.85},{"p":"c","x":3.988,"y":0.8},{"p":"c","x":3.992,"y":0.72},{"p":"c","x":3.996,"y":0.66},{"p":"c","x":4.000,"y":0.6},{"p":"c","x":4.008,"y":0.5},{"p":"c","x":4.016,"y":0.43},{"p":"c","x":4.024,"y":0.38},{"p":"c","x":4.032,"y":0.33},{"p":"c","x":4.040,"y":0.28},{"p":"c","x":4.048,"y":0.25},{"p":"c","x":4.056,"y":0.22},{"p":"c","x":4.064,"y":0.18},{"p":"c","x":4.072,"y":0.14},{"p":"c","x":4.080,"y":0.1},{"p":"c","x":4.088,"y":0.06},{"p":"c","x":4.096,"y":0.03},{"p":"c","x":4.104,"y":0},
{"p":"d","x":3.8758,"y":0},{"p":"d","x":3.8768,"y":6.8},{"p":"d","x":3.877,"y":8.3},{"p":"d","x":3.8776,"y":12.5},{"p":"d","x":3.878,"y":14.5},{"p":"d","x":3.879,"y":18.3},{"p":"d","x":3.880,"y":20.8},{"p":"d","x":3.881,"y":22.8},{"p":"d","x":3.882,"y":24.0},{"p":"d","x":3.884,"y":25.3},{"p":"d","x":3.886,"y":25.9},{"p":"d","x":3.888,"y":25.5},{"p":"d","x":3.890,"y":24.3},{"p":"d","x":3.892,"y":22.6},{"p":"d","x":3.894,"y":20.5},{"p":"d","x":3.896,"y":18.6},{"p":"d","x":3.898,"y":16.8},{"p":"d","x":3.900,"y":15.3},{"p":"d","x":3.902,"y":13.9},{"p":"d","x":3.904,"y":12.6},{"p":"d","x":3.906,"y":11.5},{"p":"d","x":3.908,"y":10.4},{"p":"d","x":3.910,"y":9.5},{"p":"d","x":3.912,"y":8.6},{"p":"d","x":3.916,"y":7.1},{"p":"d","x":3.920,"y":5.9},{"p":"d","x":3.924,"y":5.0},{"p":"d","x":3.928,"y":4.3},{"p":"d","x":3.932,"y":3.8},{"p":"d","x":3.936,"y":3.35},{"p":"d","x":3.940,"y":2.95},{"p":"d","x":3.944,"y":2.65},{"p":"d","x":3.948,"y":2.4},{"p":"d","x":3.952,"y":2.2},{"p":"d","x":3.956,"y":2.05},{"p":"d","x":3.960,"y":1.9},{"p":"d","x":3.964,"y":1.8},{"p":"d","x":3.968,"y":1.7},{"p":"d","x":3.972,"y":1.58},{"p":"d","x":3.976,"y":1.47},{"p":"d","x":3.980,"y":1.37},{"p":"d","x":3.984,"y":1.28},{"p":"d","x":3.988,"y":1.2},{"p":"d","x":3.992,"y":1.12},{"p":"d","x":3.996,"y":1.03},{"p":"d","x":4.000,"y":0.95},{"p":"d","x":4.008,"y":0.78},{"p":"d","x":4.016,"y":0.62},{"p":"d","x":4.024,"y":0.48},{"p":"d","x":4.032,"y":0.37},{"p":"d","x":4.040,"y":0.27},{"p":"d","x":4.048,"y":0.18},{"p":"d","x":4.056,"y":0.11},{"p":"d","x":4.064,"y":0.05},{"p":"d","x":4.072,"y":0}
],
"blu":[
{"p":"a","x":3.860,"y":0},{"p":"a","x":3.8752,"y":0},{"p":"a","x":3.8758,"y":8},{"p":"a","x":3.87605,"y":15.3},{"p":"a","x":3.877,"y":29.8},{"p":"a","x":3.878,"y":39.5},{"p":"a","x":3.879,"y":44.3},{"p":"a","x":3.87995,"y":47.3},{"p":"a","x":3.88005,"y":50.2},{"p":"a","x":3.882,"y":53.2},{"p":"a","x":3.88395,"y":54.2},{"p":"a","x":3.88405,"y":55.8},{"p":"a","x":3.886,"y":55.2},{"p":"a","x":3.88795,"y":53.6},{"p":"a","x":3.88805,"y":54.7},{"p":"a","x":3.890,"y":51.7},{"p":"a","x":3.89195,"y":48.3},{"p":"a","x":3.89205,"y":49.6},{"p":"a","x":3.894,"y":46.1},{"p":"a","x":3.89595,"y":42.8},{"p":"a","x":3.89605,"y":44.1},{"p":"a","x":3.898,"y":40.9},{"p":"a","x":3.89995,"y":38.3},{"p":"a","x":3.90005,"y":38.6},{"p":"a","x":3.902,"y":36.3},{"p":"a","x":3.90395,"y":34.1},{"p":"a","x":3.90405,"y":34.3},{"p":"a","x":3.906,"y":32.3},{"p":"a","x":3.90795,"y":30.3},{"p":"a","x":3.90805,"y":31.9},{"p":"a","x":3.910,"y":30.2},{"p":"a","x":3.91195,"y":28.8},{"p":"a","x":3.91205,"y":29.4},{"p":"a","x":3.91595,"y":27.0},{"p":"a","x":3.91605,"y":27.3},{"p":"a","x":3.91995,"y":25.4},{"p":"a","x":3.92005,"y":25.7},{"p":"a","x":3.92395,"y":24.1},{"p":"a","x":3.92405,"y":24.0},{"p":"a","x":3.92795,"y":22.8},{"p":"a","x":3.92805,"y":23.5},{"p":"a","x":3.93195,"y":22.5},{"p":"a","x":3.93205,"y":22.0},{"p":"a","x":3.93595,"y":21.2},{"p":"a","x":3.93605,"y":21.8},{"p":"a","x":3.93995,"y":21.0},{"p":"a","x":3.94005,"y":21.3},{"p":"a","x":3.94395,"y":20.7},{"p":"a","x":3.94405,"y":20.1},{"p":"a","x":3.94795,"y":19.6},{"p":"a","x":3.94805,"y":20.4},{"p":"a","x":3.95195,"y":20.0},{"p":"a","x":3.95205,"y":19.8},{"p":"a","x":3.95595,"y":19.5},{"p":"a","x":3.95605,"y":20.6},{"p":"a","x":3.95995,"y":20.35},{"p":"a","x":3.96005,"y":19.85},{"p":"a","x":3.96395,"y":19.65},{"p":"a","x":3.96405,"y":19.95},{"p":"a","x":3.96795,"y":19.75},{"p":"a","x":3.96805,"y":19.35},{"p":"a","x":3.97195,"y":19.2},{"p":"a","x":3.97205,"y":19.0},{"p":"a","x":3.97595,"y":18.85},{"p":"a","x":3.97605,"y":19.45},{"p":"a","x":3.97995,"y":19.3},{"p":"a","x":3.98005,"y":18.9},{"p":"a","x":3.98395,"y":18.75},{"p":"a","x":3.98405,"y":19.05},{"p":"a","x":3.98795,"y":18.95},{"p":"a","x":3.98805,"y":18.95},{"p":"a","x":3.99195,"y":18.8},{"p":"a","x":3.99205,"y":18.0},{"p":"a","x":3.99595,"y":17.9},{"p":"a","x":3.99605,"y":17.6},{"p":"a","x":3.99995,"y":17.5},{"p":"a","x":4.00005,"y":17.2},{"p":"a","x":4.00395,"y":17.1},{"p":"a","x":4.00405,"y":16.8},{"p":"a","x":4.00795,"y":16.8},{"p":"a","x":4.00805,"y":16.5},{"p":"a","x":4.01195,"y":16.4},{"p":"a","x":4.01205,"y":16.0},{"p":"a","x":4.01595,"y":15.9},{"p":"a","x":4.01605,"y":15.5},{"p":"a","x":4.01995,"y":15.4},{"p":"a","x":4.02005,"y":15.1},{"p":"a","x":4.02395,"y":15.05},{"p":"a","x":4.02405,"y":14.45},{"p":"a","x":4.02795,"y":14.4},{"p":"a","x":4.02805,"y":13.6},{"p":"a","x":4.03195,"y":13.5},{"p":"a","x":4.03205,"y":12.8},{"p":"a","x":4.03595,"y":12.8},{"p":"a","x":4.03605,"y":11.6},{"p":"a","x":4.03995,"y":11.5},{"p":"a","x":4.04005,"y":10.3},{"p":"a","x":4.04395,"y":10.3},{"p":"a","x":4.04405,"y":9.1},{"p":"a","x":4.04795,"y":9.05},{"p":"a","x":4.04805,"y":7.85},{"p":"a","x":4.05195,"y":7.8},{"p":"a","x":4.05205,"y":6.6},{"p":"a","x":4.05595,"y":6.55},{"p":"a","x":4.05605,"y":5.35},{"p":"a","x":4.05995,"y":5.3},{"p":"a","x":4.06005,"y":3.9},{"p":"a","x":4.06395,"y":3.9},{"p":"a","x":4.06405,"y":2.6},{"p":"a","x":4.06795,"y":2.55},{"p":"a","x":4.06805,"y":1.35},{"p":"a","x":4.07195,"y":1.3},{"p":"a","x":4.07205,"y":0.5},{"p":"a","x":4.07595,"y":0.5},{"p":"a","x":4.07605,"y":0.1},{"p":"a","x":4.07995,"y":0.1},{"p":"a","x":4.08005,"y":0},{"p":"a","x":4.120,"y":0},
{"p":"b","x":3.860,"y":0},{"p":"b","x":3.8759,"y":0},{"p":"b","x":3.87605,"y":6.6},{"p":"b","x":3.877,"y":19.1},{"p":"b","x":3.878,"y":26.1},{"p":"b","x":3.879,"y":32.1},{"p":"b","x":3.87995,"y":39.1},{"p":"b","x":3.88005,"y":42.6},{"p":"b","x":3.882,"y":51.9},{"p":"b","x":3.88395,"y":54.3},{"p":"b","x":3.88405,"y":56.7},{"p":"b","x":3.886,"y":57.5},{"p":"b","x":3.88795,"y":57.0},{"p":"b","x":3.88805,"y":58.8},{"p":"b","x":3.890,"y":56.6},{"p":"b","x":3.89195,"y":53.8},{"p":"b","x":3.89205,"y":55.9},{"p":"b","x":3.894,"y":51.9},{"p":"b","x":3.89595,"y":47.9},{"p":"b","x":3.89605,"y":49.7},{"p":"b","x":3.898,"y":46.0},{"p":"b","x":3.89995,"y":42.6},{"p":"b","x":3.90005,"y":43.2},{"p":"b","x":3.902,"y":40.5},{"p":"b","x":3.90395,"y":37.9},{"p":"b","x":3.90405,"y":38.6},{"p":"b","x":3.906,"y":36.3},{"p":"b","x":3.90795,"y":34.3},{"p":"b","x":3.90805,"y":35.5},{"p":"b","x":3.910,"y":33.8},{"p":"b","x":3.91195,"y":32.2},{"p":"b","x":3.91205,"y":32.8},{"p":"b","x":3.91595,"y":30.1},{"p":"b","x":3.91605,"y":30.8},{"p":"b","x":3.91995,"y":28.8},{"p":"b","x":3.92005,"y":29.7},{"p":"b","x":3.92395,"y":28.1},{"p":"b","x":3.92405,"y":27.9},{"p":"b","x":3.92795,"y":26.8},{"p":"b","x":3.92805,"y":27.2},{"p":"b","x":3.93195,"y":26.2},{"p":"b","x":3.93205,"y":25.1},{"p":"b","x":3.93595,"y":24.3},{"p":"b","x":3.93605,"y":25.8},{"p":"b","x":3.93995,"y":25.1},{"p":"b","x":3.94005,"y":24.7},{"p":"b","x":3.94395,"y":24.25},{"p":"b","x":3.94405,"y":24.05},{"p":"b","x":3.94795,"y":23.75},{"p":"b","x":3.94805,"y":24.25},{"p":"b","x":3.95195,"y":24.0},{"p":"b","x":3.95205,"y":23.7},{"p":"b","x":3.95595,"y":23.45},{"p":"b","x":3.95605,"y":24.45},{"p":"b","x":3.95995,"y":24.25},{"p":"b","x":3.96005,"y":24.05},{"p":"b","x":3.96395,"y":23.9},{"p":"b","x":3.96405,"y":23.6},{"p":"b","x":3.96795,"y":23.45},{"p":"b","x":3.96805,"y":23.35},{"p":"b","x":3.97195,"y":23.2},{"p":"b","x":3.97205,"y":22.6},{"p":"b","x":3.97595,"y":22.45},{"p":"b","x":3.97605,"y":21.55},{"p":"b","x":3.97995,"y":21.4},{"p":"b","x":3.98005,"y":20.1},{"p":"b","x":3.98395,"y":19.95},{"p":"b","x":3.98405,"y":18.95},{"p":"b","x":3.98795,"y":18.8},{"p":"b","x":3.98805,"y":17.7},{"p":"b","x":3.99195,"y":17.6},{"p":"b","x":3.99205,"y":16.7},{"p":"b","x":3.99595,"y":16.55},{"p":"b","x":3.99605,"y":15.55},{"p":"b","x":3.99995,"y":15.4},{"p":"b","x":4.00005,"y":14.6},{"p":"b","x":4.00395,"y":14.45},{"p":"b","x":4.00405,"y":13.65},{"p":"b","x":4.00795,"y":13.55},{"p":"b","x":4.00805,"y":12.45},{"p":"b","x":4.01195,"y":12.35},{"p":"b","x":4.01205,"y":11.35},{"p":"b","x":4.01595,"y":11.2},{"p":"b","x":4.01605,"y":10.1},{"p":"b","x":4.01995,"y":10.0},{"p":"b","x":4.02005,"y":8.7},{"p":"b","x":4.02395,"y":8.6},{"p":"b","x":4.02405,"y":7.4},{"p":"b","x":4.02795,"y":7.3},{"p":"b","x":4.02805,"y":6.0},{"p":"b","x":4.03195,"y":5.95},{"p":"b","x":4.03205,"y":4.95},{"p":"b","x":4.03595,"y":4.85},{"p":"b","x":4.03605,"y":3.55},{"p":"b","x":4.03995,"y":3.45},{"p":"b","x":4.04005,"y":2.3},{"p":"b","x":4.04395,"y":2.2},{"p":"b","x":4.04405,"y":1.2},{"p":"b","x":4.04795,"y":1.15},{"p":"b","x":4.04805,"y":0.45},{"p":"b","x":4.05195,"y":0.4},{"p":"b","x":4.05205,"y":0},{"p":"b","x":4.120,"y":0},
{"p":"c","x":3.860,"y":0},{"p":"c","x":3.8752,"y":0},{"p":"c","x":3.8758,"y":5},{"p":"c","x":3.87605,"y":8.7},{"p":"c","x":3.877,"y":15.0},{"p":"c","x":3.878,"y":18.0},{"p":"c","x":3.879,"y":20.4},{"p":"c","x":3.87995,"y":22.4},{"p":"c","x":3.88005,"y":23.0},{"p":"c","x":3.882,"y":25.3},{"p":"c","x":3.88395,"y":26.4},{"p":"c","x":3.88405,"y":27.0},{"p":"c","x":3.886,"y":27.1},{"p":"c","x":3.88795,"y":26.5},{"p":"c","x":3.88805,"y":26.8},{"p":"c","x":3.890,"y":25.1},{"p":"c","x":3.89195,"y":23.3},{"p":"c","x":3.89205,"y":23.7},{"p":"c","x":3.894,"y":21.8},{"p":"c","x":3.89595,"y":19.9},{"p":"c","x":3.89605,"y":20.1},{"p":"c","x":3.898,"y":18.4},{"p":"c","x":3.89995,"y":16.8},{"p":"c","x":3.90005,"y":16.9},{"p":"c","x":3.902,"y":15.6},{"p":"c","x":3.90395,"y":14.4},{"p":"c","x":3.90405,"y":14.7},{"p":"c","x":3.906,"y":13.6},{"p":"c","x":3.90795,"y":12.6},{"p":"c","x":3.90805,"y":12.9},{"p":"c","x":3.910,"y":12.0},{"p":"c","x":3.91195,"y":11.2},{"p":"c","x":3.91205,"y":11.4},{"p":"c","x":3.91595,"y":10.1},{"p":"c","x":3.91605,"y":10.2},{"p":"c","x":3.91995,"y":9.2},{"p":"c","x":3.92005,"y":9.1},{"p":"c","x":3.92395,"y":8.4},{"p":"c","x":3.92405,"y":8.7},{"p":"c","x":3.92795,"y":8.1},{"p":"c","x":3.92805,"y":7.9},{"p":"c","x":3.93195,"y":7.4},{"p":"c","x":3.93205,"y":7.4},{"p":"c","x":3.93595,"y":7.0},{"p":"c","x":3.93605,"y":7.1},{"p":"c","x":3.93995,"y":6.75},{"p":"c","x":3.94005,"y":6.95},{"p":"c","x":3.94395,"y":6.65},{"p":"c","x":3.94405,"y":6.55},{"p":"c","x":3.94795,"y":6.3},{"p":"c","x":3.94805,"y":6.5},{"p":"c","x":3.95195,"y":6.3},{"p":"c","x":3.95205,"y":6.2},{"p":"c","x":3.95595,"y":6.05},{"p":"c","x":3.95605,"y":5.95},{"p":"c","x":3.95995,"y":5.8},{"p":"c","x":3.96005,"y":5.8},{"p":"c","x":3.96395,"y":5.7},{"p":"c","x":3.96405,"y":5.9},{"p":"c","x":3.96795,"y":5.8},{"p":"c","x":3.96805,"y":5.9},{"p":"c","x":3.97195,"y":5.8},{"p":"c","x":3.97205,"y":5.7},{"p":"c","x":3.97595,"y":5.65},{"p":"c","x":3.97605,"y":5.55},{"p":"c","x":3.97995,"y":5.5},{"p":"c","x":3.98005,"y":5.4},{"p":"c","x":3.98395,"y":5.35},{"p":"c","x":3.98405,"y":5.45},{"p":"c","x":3.98795,"y":5.4},{"p":"c","x":3.98805,"y":5.3},{"p":"c","x":3.99195,"y":5.22},{"p":"c","x":3.99205,"y":5.42},{"p":"c","x":3.99595,"y":5.36},{"p":"c","x":3.99605,"y":5.46},{"p":"c","x":3.99995,"y":5.4},{"p":"c","x":4.00005,"y":5.2},{"p":"c","x":4.00395,"y":5.15},{"p":"c","x":4.00405,"y":5.05},{"p":"c","x":4.00795,"y":5.0},{"p":"c","x":4.00805,"y":5.1},{"p":"c","x":4.01195,"y":5.07},{"p":"c","x":4.01205,"y":5.07},{"p":"c","x":4.01595,"y":5.03},{"p":"c","x":4.01605,"y":5.13},{"p":"c","x":4.01995,"y":5.1},{"p":"c","x":4.02005,"y":4.8},{"p":"c","x":4.02395,"y":4.78},{"p":"c","x":4.02405,"y":4.68},{"p":"c","x":4.02795,"y":4.66},{"p":"c","x":4.02805,"y":4.56},{"p":"c","x":4.03195,"y":4.53},{"p":"c","x":4.03205,"y":4.38},{"p":"c","x":4.03595,"y":4.36},{"p":"c","x":4.03605,"y":4.21},{"p":"c","x":4.03995,"y":4.18},{"p":"c","x":4.04005,"y":4.08},{"p":"c","x":4.04395,"y":4.06},{"p":"c","x":4.04405,"y":3.96},{"p":"c","x":4.04795,"y":3.95},{"p":"c","x":4.04805,"y":3.65},{"p":"c","x":4.05195,"y":3.64},{"p":"c","x":4.05205,"y":3.44},{"p":"c","x":4.05595,"y":3.42},{"p":"c","x":4.05605,"y":3.17},{"p":"c","x":4.05995,"y":3.15},{"p":"c","x":4.06005,"y":2.9},{"p":"c","x":4.06395,"y":2.88},{"p":"c","x":4.06405,"y":2.58},{"p":"c","x":4.06795,"y":2.56},{"p":"c","x":4.06805,"y":2.36},{"p":"c","x":4.07195,"y":2.34},{"p":"c","x":4.07205,"y":2.09},{"p":"c","x":4.07595,"y":2.07},{"p":"c","x":4.07605,"y":1.82},{"p":"c","x":4.07995,"y":1.8},{"p":"c","x":4.08005,"y":1.3},{"p":"c","x":4.08395,"y":1.28},{"p":"c","x":4.08405,"y":1.08},{"p":"c","x":4.08795,"y":1.06},{"p":"c","x":4.08805,"y":0.76},{"p":"c","x":4.09195,"y":0.75},{"p":"c","x":4.09205,"y":0.44},{"p":"c","x":4.09595,"y":0.43},{"p":"c","x":4.09605,"y":0.23},{"p":"c","x":4.09995,"y":0.22},{"p":"c","x":4.10005,"y":0.05},{"p":"c","x":4.10395,"y":0.05},{"p":"c","x":4.10405,"y":0},{"p":"c","x":4.120,"y":0},
{"p":"d","x":3.860,"y":0},{"p":"d","x":3.8758,"y":0},{"p":"d","x":3.87605,"y":2.6},{"p":"d","x":3.877,"y":9.4},{"p":"d","x":3.878,"y":15.6},{"p":"d","x":3.879,"y":19.4},{"p":"d","x":3.87995,"y":21.9},{"p":"d","x":3.88005,"y":23.1},{"p":"d","x":3.882,"y":26.3},{"p":"d","x":3.88395,"y":27.6},{"p":"d","x":3.88405,"y":28.2},{"p":"d","x":3.886,"y":28.8},{"p":"d","x":3.88795,"y":28.4},{"p":"d","x":3.88805,"y":29.2},{"p":"d","x":3.890,"y":28.0},{"p":"d","x":3.89195,"y":26.3},{"p":"d","x":3.89205,"y":26.8},{"p":"d","x":3.894,"y":24.7},{"p":"d","x":3.89595,"y":22.8},{"p":"d","x":3.89605,"y":23.05},{"p":"d","x":3.898,"y":21.25},{"p":"d","x":3.89995,"y":19.75},{"p":"d","x":3.90005,"y":20.2},{"p":"d","x":3.902,"y":18.8},{"p":"d","x":3.90395,"y":17.5},{"p":"d","x":3.90405,"y":17.8},{"p":"d","x":3.906,"y":16.7},{"p":"d","x":3.90795,"y":15.6},{"p":"d","x":3.90805,"y":15.85},{"p":"d","x":3.910,"y":14.95},{"p":"d","x":3.91195,"y":14.05},{"p":"d","x":3.91205,"y":14.2},{"p":"d","x":3.91595,"y":12.7},{"p":"d","x":3.91605,"y":13.0},{"p":"d","x":3.91995,"y":11.8},{"p":"d","x":3.92005,"y":11.85},{"p":"d","x":3.92395,"y":10.95},{"p":"d","x":3.92405,"y":11.2},{"p":"d","x":3.92795,"y":10.5},{"p":"d","x":3.92805,"y":10.6},{"p":"d","x":3.93195,"y":10.1},{"p":"d","x":3.93205,"y":10.4},{"p":"d","x":3.93595,"y":9.95},{"p":"d","x":3.93605,"y":9.85},{"p":"d","x":3.93995,"y":9.45},{"p":"d","x":3.94005,"y":9.65},{"p":"d","x":3.94395,"y":9.35},{"p":"d","x":3.94405,"y":9.35},{"p":"d","x":3.94795,"y":9.1},{"p":"d","x":3.94805,"y":9.0},{"p":"d","x":3.95195,"y":8.8},{"p":"d","x":3.95205,"y":8.5},{"p":"d","x":3.95595,"y":8.35},{"p":"d","x":3.95605,"y":8.55},{"p":"d","x":3.95995,"y":8.4},{"p":"d","x":3.96005,"y":8.6},{"p":"d","x":3.96395,"y":8.5},{"p":"d","x":3.96405,"y":8.4},{"p":"d","x":3.96795,"y":8.3},{"p":"d","x":3.96805,"y":8.3},{"p":"d","x":3.97195,"y":8.18},{"p":"d","x":3.97205,"y":8.08},{"p":"d","x":3.97595,"y":7.97},{"p":"d","x":3.97605,"y":7.87},{"p":"d","x":3.97995,"y":7.77},{"p":"d","x":3.98005,"y":7.67},{"p":"d","x":3.98395,"y":7.58},{"p":"d","x":3.98405,"y":7.48},{"p":"d","x":3.98795,"y":7.4},{"p":"d","x":3.98805,"y":7.4},{"p":"d","x":3.99195,"y":7.32},{"p":"d","x":3.99205,"y":7.32},{"p":"d","x":3.99595,"y":7.23},{"p":"d","x":3.99605,"y":7.03},{"p":"d","x":3.99995,"y":6.95},{"p":"d","x":4.00005,"y":6.7},{"p":"d","x":4.00395,"y":6.61},{"p":"d","x":4.00405,"y":6.37},{"p":"d","x":4.00795,"y":6.28},{"p":"d","x":4.00805,"y":6.18},{"p":"d","x":4.01195,"y":6.1},{"p":"d","x":4.01205,"y":5.8},{"p":"d","x":4.01595,"y":5.72},{"p":"d","x":4.01605,"y":5.42},{"p":"d","x":4.01995,"y":5.35},{"p":"d","x":4.02005,"y":5.0},{"p":"d","x":4.02395,"y":4.93},{"p":"d","x":4.02405,"y":4.63},{"p":"d","x":4.02795,"y":4.57},{"p":"d","x":4.02805,"y":4.43},{"p":"d","x":4.03195,"y":4.37},{"p":"d","x":4.03205,"y":4.17},{"p":"d","x":4.03595,"y":4.12},{"p":"d","x":4.03605,"y":3.72},{"p":"d","x":4.03995,"y":3.67},{"p":"d","x":4.04005,"y":3.42},{"p":"d","x":4.04395,"y":3.37},{"p":"d","x":4.04405,"y":3.07},{"p":"d","x":4.04795,"y":3.03},{"p":"d","x":4.04805,"y":2.68},{"p":"d","x":4.05195,"y":2.65},{"p":"d","x":4.05205,"y":2.35},{"p":"d","x":4.05595,"y":2.31},{"p":"d","x":4.05605,"y":1.86},{"p":"d","x":4.05995,"y":1.83},{"p":"d","x":4.06005,"y":1.48},{"p":"d","x":4.06395,"y":1.45},{"p":"d","x":4.06405,"y":1.15},{"p":"d","x":4.06795,"y":1.13},{"p":"d","x":4.06805,"y":0.83},{"p":"d","x":4.07195,"y":0.8},{"p":"d","x":4.07205,"y":0.45},{"p":"d","x":4.07595,"y":0.45},{"p":"d","x":4.07605,"y":0.2},{"p":"d","x":4.07995,"y":0.2},{"p":"d","x":4.08005,"y":0.05},{"p":"d","x":4.08395,"y":0.05},{"p":"d","x":4.08405,"y":0},{"p":"d","x":4.120,"y":0}
]
},
"concat":[
{"width":497,"height":347,"resolve":{"axis":{"x":"independent","y":"independent"}},
"layer":[
{"data":{"name":"grn"},"transform":[{"filter":"datum.p=='a'"}],"mark":{"type":"rect","color":"#00ff00","stroke":"#00ff00","strokeWidth":0.5},
"encoding":{"x":{"field":"x0","type":"quantitative","scale":{"domain":[3.86,4.12],"nice":false,"zero":false},"axis":{"orient":"bottom","values":[3.9,3.95,4,4.05,4.1],"format":"~g","ticks":false,"labelFontSize":24,"labelPadding":5,"title":"M(D⁰D*⁻) (GeV/c²)","titleFontSize":30,"titleY":58,"titleBaseline":"alphabetic"}},"x2":{"field":"x1"},
"y":{"field":"g","type":"quantitative","scale":{"domain":[0,62.1],"nice":false},"axis":{"orient":"left","values":[0,20,40,60],"format":"d","ticks":false,"labelFontSize":24,"labelPadding":5,"title":"Events/(4.0 MeV/c²)","titleFontSize":30,"titleX":-42,"titleBaseline":"alphabetic"}},"y2":{"datum":0}}},
{"data":{"name":"blu"},"transform":[{"filter":"datum.p=='a'"}],"mark":{"type":"line","color":"#0000ff","strokeWidth":3},
"encoding":{"x":{"field":"x","type":"quantitative","axis":{"orient":"bottom","values":[3.9,3.95,4,4.05,4.1],"labels":false,"tickSize":-11,"tickWidth":1.8,"title":null}},"y":{"field":"y","type":"quantitative","axis":{"orient":"left","values":[0,20,40,60],"labels":false,"tickSize":-13,"tickWidth":1.8,"title":null}}}},
{"data":{"name":"red"},"transform":[{"filter":"datum.p=='a'"}],"mark":{"type":"line","color":"#ff0000","strokeWidth":3,"strokeDash":[3,3]},
"encoding":{"x":{"field":"x","type":"quantitative","axis":{"orient":"bottom","values":[3.87,3.88,3.89,3.91,3.92,3.93,3.94,3.96,3.97,3.98,3.99,4.01,4.02,4.03,4.04,4.06,4.07,4.08,4.09,4.11],"labels":false,"tickSize":-6,"tickWidth":1.5,"title":null}},"y":{"field":"y","type":"quantitative","axis":{"orient":"left","values":[5,10,15,25,30,35,45,50,55],"labels":false,"tickSize":-7,"tickWidth":1.5,"title":null}}}},
{"data":{"name":"pts"},"transform":[{"filter":"datum.p=='a'"}],"mark":{"type":"rule","color":"black","strokeWidth":2.4},
"encoding":{"x":{"field":"x","type":"quantitative","axis":{"orient":"top","values":[3.9,3.95,4,4.05,4.1],"labels":false,"tickSize":-11,"tickWidth":1.8,"title":null}},"y":{"field":"lo","type":"quantitative","axis":{"orient":"right","values":[0,20,40,60],"labels":false,"tickSize":-13,"tickWidth":1.8,"title":null}},"y2":{"field":"hi"}}},
{"data":{"name":"pts"},"transform":[{"filter":"datum.p=='a'"}],"mark":{"type":"tick","orient":"horizontal","color":"black","size":8,"thickness":2.5},
"encoding":{"x":{"field":"x","type":"quantitative","axis":{"orient":"top","values":[3.87,3.88,3.89,3.91,3.92,3.93,3.94,3.96,3.97,3.98,3.99,4.01,4.02,4.03,4.04,4.06,4.07,4.08,4.09,4.11],"labels":false,"tickSize":-6,"tickWidth":1.5,"title":null}},"y":{"field":"n","type":"quantitative","axis":{"orient":"right","values":[5,10,15,25,30,35,45,50,55],"labels":false,"tickSize":-7,"tickWidth":1.5,"title":null}}}},
{"data":{"name":"pts"},"transform":[{"filter":"datum.p=='a'"}],"mark":{"type":"tick","orient":"horizontal","color":"black","size":5,"thickness":1.6},
"encoding":{"x":{"field":"x","type":"quantitative","axis":null},"y":{"field":"hi","type":"quantitative","axis":null}}},
{"data":{"name":"pts"},"transform":[{"filter":"datum.p=='a' && datum.n>0"}],"mark":{"type":"tick","orient":"horizontal","color":"black","size":5,"thickness":1.6},
"encoding":{"x":{"field":"x","type":"quantitative","axis":null},"y":{"field":"lo","type":"quantitative","axis":null}}},
{"data":{"name":"pts"},"transform":[{"filter":"datum.p=='a'"}],"mark":{"type":"circle","color":"black","opacity":1,"size":38},
"encoding":{"x":{"field":"x","type":"quantitative","axis":null},"y":{"field":"n","type":"quantitative","axis":null}}},
{"data":{"name":"lab"},"transform":[{"filter":"datum.p=='a'"}],"mark":{"type":"text","font":"Liberation Serif","fontSize":27,"fontWeight":"bold","color":"black","align":"center","baseline":"middle"},
"encoding":{"x":{"datum":4.071,"type":"quantitative","axis":null},"y":{"datum":45.8,"type":"quantitative","axis":null},"text":{"field":"t"}}}
]},
{"width":497,"height":347,"resolve":{"axis":{"x":"independent","y":"independent"}},
"layer":[
{"data":{"name":"grn"},"transform":[{"filter":"datum.p=='b'"}],"mark":{"type":"rect","color":"#00ff00","stroke":"#00ff00","strokeWidth":0.5},
"encoding":{"x":{"field":"x0","type":"quantitative","scale":{"domain":[3.86,4.12],"nice":false,"zero":false},"axis":{"orient":"bottom","values":[3.9,3.95,4,4.05,4.1],"format":"~g","ticks":false,"labelFontSize":24,"labelPadding":5,"title":"M(D⁻D*⁰) (GeV/c²)","titleFontSize":30,"titleY":58,"titleBaseline":"alphabetic"}},"x2":{"field":"x1"},
"y":{"field":"g","type":"quantitative","scale":{"domain":[0,66.6],"nice":false},"axis":{"orient":"left","values":[0,20,40,60],"format":"d","ticks":false,"labelFontSize":24,"labelPadding":5,"title":"Events/(4.0 MeV/c²)","titleFontSize":30,"titleX":-42,"titleBaseline":"alphabetic"}},"y2":{"datum":0}}},
{"data":{"name":"blu"},"transform":[{"filter":"datum.p=='b'"}],"mark":{"type":"line","color":"#0000ff","strokeWidth":3},
"encoding":{"x":{"field":"x","type":"quantitative","axis":{"orient":"bottom","values":[3.9,3.95,4,4.05,4.1],"labels":false,"tickSize":-11,"tickWidth":1.8,"title":null}},"y":{"field":"y","type":"quantitative","axis":{"orient":"left","values":[0,20,40,60],"labels":false,"tickSize":-13,"tickWidth":1.8,"title":null}}}},
{"data":{"name":"red"},"transform":[{"filter":"datum.p=='b'"}],"mark":{"type":"line","color":"#ff0000","strokeWidth":3,"strokeDash":[3,3]},
"encoding":{"x":{"field":"x","type":"quantitative","axis":{"orient":"bottom","values":[3.87,3.88,3.89,3.91,3.92,3.93,3.94,3.96,3.97,3.98,3.99,4.01,4.02,4.03,4.04,4.06,4.07,4.08,4.09,4.11],"labels":false,"tickSize":-6,"tickWidth":1.5,"title":null}},"y":{"field":"y","type":"quantitative","axis":{"orient":"left","values":[5,10,15,25,30,35,45,50,55,65],"labels":false,"tickSize":-7,"tickWidth":1.5,"title":null}}}},
{"data":{"name":"pts"},"transform":[{"filter":"datum.p=='b'"}],"mark":{"type":"rule","color":"black","strokeWidth":2.4},
"encoding":{"x":{"field":"x","type":"quantitative","axis":{"orient":"top","values":[3.9,3.95,4,4.05,4.1],"labels":false,"tickSize":-11,"tickWidth":1.8,"title":null}},"y":{"field":"lo","type":"quantitative","axis":{"orient":"right","values":[0,20,40,60],"labels":false,"tickSize":-13,"tickWidth":1.8,"title":null}},"y2":{"field":"hi"}}},
{"data":{"name":"pts"},"transform":[{"filter":"datum.p=='b'"}],"mark":{"type":"tick","orient":"horizontal","color":"black","size":8,"thickness":2.5},
"encoding":{"x":{"field":"x","type":"quantitative","axis":{"orient":"top","values":[3.87,3.88,3.89,3.91,3.92,3.93,3.94,3.96,3.97,3.98,3.99,4.01,4.02,4.03,4.04,4.06,4.07,4.08,4.09,4.11],"labels":false,"tickSize":-6,"tickWidth":1.5,"title":null}},"y":{"field":"n","type":"quantitative","axis":{"orient":"right","values":[5,10,15,25,30,35,45,50,55,65],"labels":false,"tickSize":-7,"tickWidth":1.5,"title":null}}}},
{"data":{"name":"pts"},"transform":[{"filter":"datum.p=='b'"}],"mark":{"type":"tick","orient":"horizontal","color":"black","size":5,"thickness":1.6},
"encoding":{"x":{"field":"x","type":"quantitative","axis":null},"y":{"field":"hi","type":"quantitative","axis":null}}},
{"data":{"name":"pts"},"transform":[{"filter":"datum.p=='b' && datum.n>0"}],"mark":{"type":"tick","orient":"horizontal","color":"black","size":5,"thickness":1.6},
"encoding":{"x":{"field":"x","type":"quantitative","axis":null},"y":{"field":"lo","type":"quantitative","axis":null}}},
{"data":{"name":"pts"},"transform":[{"filter":"datum.p=='b'"}],"mark":{"type":"circle","color":"black","opacity":1,"size":38},
"encoding":{"x":{"field":"x","type":"quantitative","axis":null},"y":{"field":"n","type":"quantitative","axis":null}}},
{"data":{"name":"lab"},"transform":[{"filter":"datum.p=='b'"}],"mark":{"type":"text","font":"Liberation Serif","fontSize":27,"fontWeight":"bold","color":"black","align":"center","baseline":"middle"},
"encoding":{"x":{"datum":4.071,"type":"quantitative","axis":null},"y":{"datum":48.8,"type":"quantitative","axis":null},"text":{"field":"t"}}}
]},
{"width":497,"height":347,"resolve":{"axis":{"x":"independent","y":"independent"}},
"layer":[
{"data":{"name":"grn"},"transform":[{"filter":"datum.p=='c'"}],"mark":{"type":"rect","color":"#00ff00","stroke":"#00ff00","strokeWidth":0.5},
"encoding":{"x":{"field":"x0","type":"quantitative","scale":{"domain":[3.86,4.12],"nice":false,"zero":false},"axis":{"orient":"bottom","values":[3.9,3.95,4,4.05,4.1],"format":"~g","ticks":false,"labelFontSize":24,"labelPadding":5,"title":"M(D⁰D*⁻) (GeV/c²)","titleFontSize":30,"titleY":58,"titleBaseline":"alphabetic"}},"x2":{"field":"x1"},
"y":{"field":"g","type":"quantitative","scale":{"domain":[0,38.3],"nice":false},"axis":{"orient":"left","values":[0,10,20,30],"format":"d","ticks":false,"labelFontSize":24,"labelPadding":5,"title":"Events/(4.0 MeV/c²)","titleFontSize":30,"titleX":-42,"titleBaseline":"alphabetic"}},"y2":{"datum":0}}},
{"data":{"name":"blu"},"transform":[{"filter":"datum.p=='c'"}],"mark":{"type":"line","color":"#0000ff","strokeWidth":3},
"encoding":{"x":{"field":"x","type":"quantitative","axis":{"orient":"bottom","values":[3.9,3.95,4,4.05,4.1],"labels":false,"tickSize":-11,"tickWidth":1.8,"title":null}},"y":{"field":"y","type":"quantitative","axis":{"orient":"left","values":[0,10,20,30],"labels":false,"tickSize":-13,"tickWidth":1.8,"title":null}}}},
{"data":{"name":"red"},"transform":[{"filter":"datum.p=='c'"}],"mark":{"type":"line","color":"#ff0000","strokeWidth":3,"strokeDash":[3,3]},
"encoding":{"x":{"field":"x","type":"quantitative","axis":{"orient":"bottom","values":[3.87,3.88,3.89,3.91,3.92,3.93,3.94,3.96,3.97,3.98,3.99,4.01,4.02,4.03,4.04,4.06,4.07,4.08,4.09,4.11],"labels":false,"tickSize":-6,"tickWidth":1.5,"title":null}},"y":{"field":"y","type":"quantitative","axis":{"orient":"left","values":[2,4,6,8,12,14,16,18,22,24,26,28,32,34,36,38],"labels":false,"tickSize":-7,"tickWidth":1.5,"title":null}}}},
{"data":{"name":"pts"},"transform":[{"filter":"datum.p=='c'"}],"mark":{"type":"rule","color":"black","strokeWidth":2.4},
"encoding":{"x":{"field":"x","type":"quantitative","axis":{"orient":"top","values":[3.9,3.95,4,4.05,4.1],"labels":false,"tickSize":-11,"tickWidth":1.8,"title":null}},"y":{"field":"lo","type":"quantitative","axis":{"orient":"right","values":[0,10,20,30],"labels":false,"tickSize":-13,"tickWidth":1.8,"title":null}},"y2":{"field":"hi"}}},
{"data":{"name":"pts"},"transform":[{"filter":"datum.p=='c'"}],"mark":{"type":"tick","orient":"horizontal","color":"black","size":8,"thickness":2.5},
"encoding":{"x":{"field":"x","type":"quantitative","axis":{"orient":"top","values":[3.87,3.88,3.89,3.91,3.92,3.93,3.94,3.96,3.97,3.98,3.99,4.01,4.02,4.03,4.04,4.06,4.07,4.08,4.09,4.11],"labels":false,"tickSize":-6,"tickWidth":1.5,"title":null}},"y":{"field":"n","type":"quantitative","axis":{"orient":"right","values":[2,4,6,8,12,14,16,18,22,24,26,28,32,34,36,38],"labels":false,"tickSize":-7,"tickWidth":1.5,"title":null}}}},
{"data":{"name":"pts"},"transform":[{"filter":"datum.p=='c'"}],"mark":{"type":"tick","orient":"horizontal","color":"black","size":5,"thickness":1.6},
"encoding":{"x":{"field":"x","type":"quantitative","axis":null},"y":{"field":"hi","type":"quantitative","axis":null}}},
{"data":{"name":"pts"},"transform":[{"filter":"datum.p=='c' && datum.n>0"}],"mark":{"type":"tick","orient":"horizontal","color":"black","size":5,"thickness":1.6},
"encoding":{"x":{"field":"x","type":"quantitative","axis":null},"y":{"field":"lo","type":"quantitative","axis":null}}},
{"data":{"name":"pts"},"transform":[{"filter":"datum.p=='c'"}],"mark":{"type":"circle","color":"black","opacity":1,"size":38},
"encoding":{"x":{"field":"x","type":"quantitative","axis":null},"y":{"field":"n","type":"quantitative","axis":null}}},
{"data":{"name":"lab"},"transform":[{"filter":"datum.p=='c'"}],"mark":{"type":"text","font":"Liberation Serif","fontSize":27,"fontWeight":"bold","color":"black","align":"center","baseline":"middle"},
"encoding":{"x":{"datum":4.071,"type":"quantitative","axis":null},"y":{"datum":28.2,"type":"quantitative","axis":null},"text":{"field":"t"}}}
]},
{"width":497,"height":347,"resolve":{"axis":{"x":"independent","y":"independent"}},
"layer":[
{"data":{"name":"grn"},"transform":[{"filter":"datum.p=='d'"}],"mark":{"type":"rect","color":"#00ff00","stroke":"#00ff00","strokeWidth":0.5},
"encoding":{"x":{"field":"x0","type":"quantitative","scale":{"domain":[3.86,4.12],"nice":false,"zero":false},"axis":{"orient":"bottom","values":[3.9,3.95,4,4.05,4.1],"format":"~g","ticks":false,"labelFontSize":24,"labelPadding":5,"title":"M(D⁻D*⁰) (GeV/c²)","titleFontSize":30,"titleY":58,"titleBaseline":"alphabetic"}},"x2":{"field":"x1"},
"y":{"field":"g","type":"quantitative","scale":{"domain":[0,45.1],"nice":false},"axis":{"orient":"left","values":[0,10,20,30,40],"format":"d","ticks":false,"labelFontSize":24,"labelPadding":5,"title":"Events/(4.0 MeV/c²)","titleFontSize":30,"titleX":-42,"titleBaseline":"alphabetic"}},"y2":{"datum":0}}},
{"data":{"name":"blu"},"transform":[{"filter":"datum.p=='d'"}],"mark":{"type":"line","color":"#0000ff","strokeWidth":3},
"encoding":{"x":{"field":"x","type":"quantitative","axis":{"orient":"bottom","values":[3.9,3.95,4,4.05,4.1],"labels":false,"tickSize":-11,"tickWidth":1.8,"title":null}},"y":{"field":"y","type":"quantitative","axis":{"orient":"left","values":[0,10,20,30,40],"labels":false,"tickSize":-13,"tickWidth":1.8,"title":null}}}},
{"data":{"name":"red"},"transform":[{"filter":"datum.p=='d'"}],"mark":{"type":"line","color":"#ff0000","strokeWidth":3,"strokeDash":[3,3]},
"encoding":{"x":{"field":"x","type":"quantitative","axis":{"orient":"bottom","values":[3.87,3.88,3.89,3.91,3.92,3.93,3.94,3.96,3.97,3.98,3.99,4.01,4.02,4.03,4.04,4.06,4.07,4.08,4.09,4.11],"labels":false,"tickSize":-6,"tickWidth":1.5,"title":null}},"y":{"field":"y","type":"quantitative","axis":{"orient":"left","values":[2,4,6,8,12,14,16,18,22,24,26,28,32,34,36,38,42,44],"labels":false,"tickSize":-7,"tickWidth":1.5,"title":null}}}},
{"data":{"name":"pts"},"transform":[{"filter":"datum.p=='d'"}],"mark":{"type":"rule","color":"black","strokeWidth":2.4},
"encoding":{"x":{"field":"x","type":"quantitative","axis":{"orient":"top","values":[3.9,3.95,4,4.05,4.1],"labels":false,"tickSize":-11,"tickWidth":1.8,"title":null}},"y":{"field":"lo","type":"quantitative","axis":{"orient":"right","values":[0,10,20,30,40],"labels":false,"tickSize":-13,"tickWidth":1.8,"title":null}},"y2":{"field":"hi"}}},
{"data":{"name":"pts"},"transform":[{"filter":"datum.p=='d'"}],"mark":{"type":"tick","orient":"horizontal","color":"black","size":8,"thickness":2.5},
"encoding":{"x":{"field":"x","type":"quantitative","axis":{"orient":"top","values":[3.87,3.88,3.89,3.91,3.92,3.93,3.94,3.96,3.97,3.98,3.99,4.01,4.02,4.03,4.04,4.06,4.07,4.08,4.09,4.11],"labels":false,"tickSize":-6,"tickWidth":1.5,"title":null}},"y":{"field":"n","type":"quantitative","axis":{"orient":"right","values":[2,4,6,8,12,14,16,18,22,24,26,28,32,34,36,38,42,44],"labels":false,"tickSize":-7,"tickWidth":1.5,"title":null}}}},
{"data":{"name":"pts"},"transform":[{"filter":"datum.p=='d'"}],"mark":{"type":"tick","orient":"horizontal","color":"black","size":5,"thickness":1.6},
"encoding":{"x":{"field":"x","type":"quantitative","axis":null},"y":{"field":"hi","type":"quantitative","axis":null}}},
{"data":{"name":"pts"},"transform":[{"filter":"datum.p=='d' && datum.n>0"}],"mark":{"type":"tick","orient":"horizontal","color":"black","size":5,"thickness":1.6},
"encoding":{"x":{"field":"x","type":"quantitative","axis":null},"y":{"field":"lo","type":"quantitative","axis":null}}},
{"data":{"name":"pts"},"transform":[{"filter":"datum.p=='d'"}],"mark":{"type":"circle","color":"black","opacity":1,"size":38},
"encoding":{"x":{"field":"x","type":"quantitative","axis":null},"y":{"field":"n","type":"quantitative","axis":null}}},
{"data":{"name":"lab"},"transform":[{"filter":"datum.p=='d'"}],"mark":{"type":"text","font":"Liberation Serif","fontSize":27,"fontWeight":"bold","color":"black","align":"center","baseline":"middle"},
"encoding":{"x":{"datum":4.071,"type":"quantitative","axis":null},"y":{"datum":33.2,"type":"quantitative","axis":null},"text":{"field":"t"}}}
]}
]
}
